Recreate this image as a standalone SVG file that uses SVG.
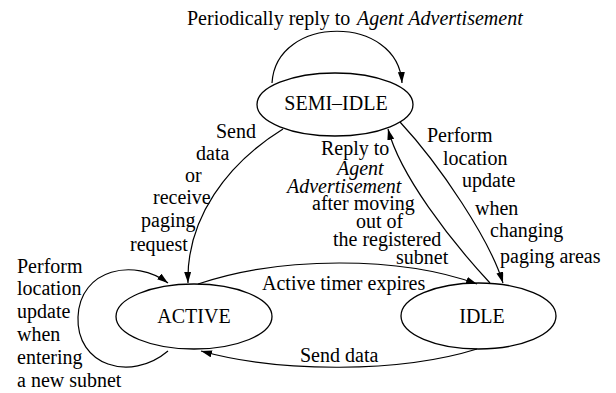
<svg xmlns="http://www.w3.org/2000/svg" width="616" height="393" viewBox="0 0 616 393">
  <style>
    text { font-family: "Liberation Serif", "Times New Roman", serif; font-size: 20px; fill: #000; }
    .it { font-style: italic; }
    .state { fill: none; stroke: #000; stroke-width: 1.3; }
    .edge { fill: none; stroke: #000; stroke-width: 1.2; marker-end: url(#arrow); }
  </style>
  <defs>
    <marker id="arrow" markerUnits="userSpaceOnUse" markerWidth="12" markerHeight="8" refX="11" refY="3.5" orient="auto">
      <path d="M0,0 L11,3.5 L0,7 z" fill="#000"/>
    </marker>
  </defs>
  <rect width="616" height="393" fill="#fff"/>

  <!-- states -->
  <g id="semi-idle">
    <ellipse class="state" cx="335" cy="104.5" rx="78" ry="31.5"/>
    <text x="336" y="110" text-anchor="middle">SEMI–IDLE</text>
  </g>
  <g id="active">
    <ellipse class="state" cx="194" cy="316.5" rx="78" ry="32.5"/>
    <text x="194" y="323" text-anchor="middle">ACTIVE</text>
  </g>
  <g id="idle">
    <ellipse class="state" cx="478.5" cy="316" rx="77.5" ry="33"/>
    <text x="482" y="323" text-anchor="middle">IDLE</text>
  </g>

  <!-- transitions -->
  <g id="connectors">
    <path class="edge" d="M272,83 C276,14 398,14 402,83"/>
    <path class="edge" d="M283,129 C228,163 186,218 188,283"/>
    <path class="edge" d="M490,283 C450,240 400,175 388,129"/>
    <path class="edge" d="M400,122 C440,165 490,240 503,283"/>
    <path class="edge" d="M198,284 C280,256 400,256 477,284"/>
    <path class="edge" d="M477,349 C400,373 280,373 201,351"/>
    <path class="edge" d="M168,351 C130,383 76,365 78,317 C80,268 135,258 168,283"/>
  </g>

  <!-- transition labels -->
  <g id="labels">
    <text x="187" y="25">Periodically reply to<tspan class="it" x="357">Agent Advertisement</tspan></text>

    <text x="216" y="138">Send</text>
    <text x="196" y="160">data</text>
    <text x="185" y="182">or</text>
    <text x="153" y="204">receive</text>
    <text x="141" y="227">paging</text>
    <text x="130" y="251">request</text>

    <text x="321" y="155">Reply to</text>
    <text class="it" x="337" y="175">Agent</text>
    <text class="it" x="287" y="192.5">Advertisement</text>
    <text x="312" y="210">after moving</text>
    <text x="356" y="228">out of</text>
    <text x="333" y="246">the registered</text>
    <text x="396" y="264">subnet</text>

    <text x="427" y="142">Perform</text>
    <text x="443" y="165">location</text>
    <text x="462" y="187">update</text>
    <text x="475" y="215">when</text>
    <text x="490" y="237">changing</text>
    <text x="500" y="263">paging areas</text>

    <text x="17" y="273">Perform</text>
    <text x="17" y="295">location</text>
    <text x="17" y="318">update</text>
    <text x="17" y="341">when</text>
    <text x="17" y="364">entering</text>
    <text x="17" y="387">a new subnet</text>

    <text x="262" y="290">Active timer expires</text>
    <text x="300" y="362">Send data</text>
  </g>
</svg>
